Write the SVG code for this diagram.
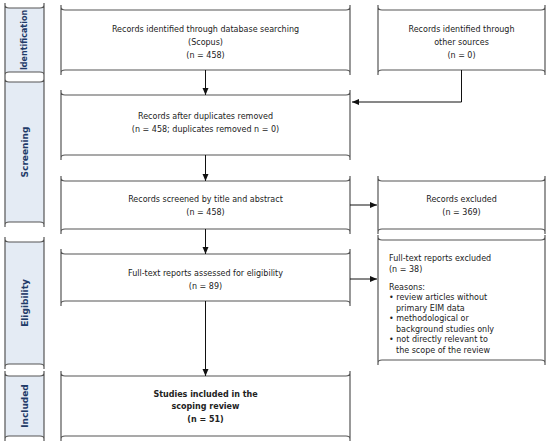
<svg xmlns="http://www.w3.org/2000/svg" width="550" height="445" viewBox="0 0 550 445">
<style>
.fr{fill:none;stroke:#555;stroke-width:1.2}
.lf{fill:#e4ebf4;stroke:none}
.t{font-family:"DejaVu Sans",sans-serif;font-size:8px;fill:#222;text-anchor:middle}
.tl{font-family:"DejaVu Sans",sans-serif;font-size:8px;fill:#222}
.b{font-weight:bold}
.lab{font-family:"DejaVu Sans",sans-serif;font-size:9px;font-weight:bold;fill:#1f3a68;text-anchor:middle}
.c{fill:none;stroke:#111;stroke-width:1}
</style>
<defs>
<marker id="ah" markerWidth="8" markerHeight="8" refX="7" refY="4" orient="auto" markerUnits="userSpaceOnUse">
<path d="M0,1 L7,4 L0,7 Z" fill="#111"/>
</marker>
</defs>
<rect width="550" height="445" fill="#fff"/>

<g id="label-identification">
<rect class="lf" x="5" y="8" width="39" height="64"/>
<path class="fr" d="M5,3V77 M44,3V77 M5,5Q5,8 9,8H40Q44,8 44,5 M5,75Q5,72 9,72H40Q44,72 44,75"/>
<text class="lab" style="font-size:8px" transform="translate(27,40) rotate(-90)">Identification</text>
</g>
<g id="label-screening">
<rect class="lf" x="5" y="82" width="39" height="140"/>
<path class="fr" d="M5,77V227 M44,77V227 M5,79Q5,82 9,82H40Q44,82 44,79 M5,225Q5,222 9,222H40Q44,222 44,225"/>
<text class="lab" transform="translate(27.5,152) rotate(-90)">Screening</text>
</g>
<g id="label-eligibility">
<rect class="lf" x="5" y="242" width="39" height="122"/>
<path class="fr" d="M5,237V369 M44,237V369 M5,239Q5,242 9,242H40Q44,242 44,239 M5,367Q5,364 9,364H40Q44,364 44,367"/>
<text class="lab" transform="translate(27.5,303) rotate(-90)">Eligibility</text>
</g>
<g id="label-included">
<rect class="lf" x="5" y="376" width="39" height="60"/>
<path class="fr" d="M5,371V441 M44,371V441 M5,373Q5,376 9,376H40Q44,376 44,373 M5,439Q5,436 9,436H40Q44,436 44,439"/>
<text class="lab" transform="translate(27.5,406) rotate(-90)">Included</text>
</g>

<g id="box-database">
<path class="fr" d="M61,5V75 M350,5V75 M61,7Q61,10 65,10H346Q350,10 350,7 M61,73Q61,70 65,70H346Q350,70 350,73"/>
<text class="t" x="205.5" y="32">Records identified through database searching</text>
<text class="t" x="205.5" y="45">(Scopus)</text>
<text class="t" x="205.5" y="58">(n = 458)</text>
</g>
<g id="box-other">
<path class="fr" d="M378,5V75 M545,5V75 M378,7Q378,10 382,10H541Q545,10 545,7 M378,73Q378,70 382,70H541Q545,70 545,73"/>
<text class="t" x="461.5" y="32">Records identified through</text>
<text class="t" x="461.5" y="45">other sources</text>
<text class="t" x="461.5" y="58">(n = 0)</text>
</g>
<g id="box-duplicates">
<path class="fr" d="M61,90V160 M350,90V160 M61,92Q61,95 65,95H346Q350,95 350,92 M61,158Q61,155 65,155H346Q350,155 350,158"/>
<text class="t" x="205.5" y="119">Records after duplicates removed</text>
<text class="t" x="205.5" y="132">(n = 458; duplicates removed n = 0)</text>
</g>
<g id="box-screened">
<path class="fr" d="M61,176V234 M350,176V234 M61,178Q61,181 65,181H346Q350,181 350,178 M61,232Q61,229 65,229H346Q350,229 350,232"/>
<text class="t" x="205.5" y="202">Records screened by title and abstract</text>
<text class="t" x="205.5" y="215">(n = 458)</text>
</g>
<g id="box-excluded">
<path class="fr" d="M378,176V234 M545,176V234 M378,178Q378,181 382,181H541Q545,181 545,178 M378,232Q378,229 382,229H541Q545,229 545,232"/>
<text class="t" x="461.5" y="202">Records excluded</text>
<text class="t" x="461.5" y="215">(n = 369)</text>
</g>
<g id="box-fulltext">
<path class="fr" d="M61,249V306 M350,249V306 M61,251Q61,254 65,254H346Q350,254 350,251 M61,304Q61,301 65,301H346Q350,301 350,304"/>
<text class="t" x="205.5" y="276">Full-text reports assessed for eligibility</text>
<text class="t" x="205.5" y="289">(n = 89)</text>
</g>
<g id="box-fulltext-excluded">
<path class="fr" d="M378,235V365 M545,235V365 M378,237Q378,240 382,240H541Q545,240 545,237 M378,363Q378,360 382,360H541Q545,360 545,363"/>
<text class="tl" x="389" y="261">Full-text reports excluded</text>
<text class="tl" x="389" y="271.5">(n = 38)</text>
<text class="tl" x="389" y="289.5">Reasons:</text>
<text class="tl" x="389" y="300">•  review articles without</text>
<text class="tl" x="396" y="310.5">primary EIM data</text>
<text class="tl" x="389" y="321">•  methodological or</text>
<text class="tl" x="396" y="331.5">background studies only</text>
<text class="tl" x="389" y="342">•  not directly relevant to</text>
<text class="tl" x="396" y="352.5">the scope of the review</text>
</g>
<g id="box-included">
<path class="fr" d="M61,371V441 M350,371V441 M61,373Q61,376 65,376H346Q350,376 350,373 M61,439Q61,436 65,436H346Q350,436 350,439"/>
<text class="t b" x="205.5" y="397">Studies included in the</text>
<text class="t b" x="205.5" y="409">scoping review</text>
<text class="t b" x="205.5" y="422">(n = 51)</text>
</g>

<g id="connectors">
<path class="c" d="M205.5,70V95" marker-end="url(#ah)"/>
<path class="c" d="M461.5,70V102H352" marker-end="url(#ah)"/>
<path class="c" d="M205.5,155V181" marker-end="url(#ah)"/>
<path class="c" d="M350,205H377" marker-end="url(#ah)"/>
<path class="c" d="M205.5,229V254" marker-end="url(#ah)"/>
<path class="c" d="M350,279H377" marker-end="url(#ah)"/>
<path class="c" d="M205.5,301V376" marker-end="url(#ah)"/>
</g>
</svg>
